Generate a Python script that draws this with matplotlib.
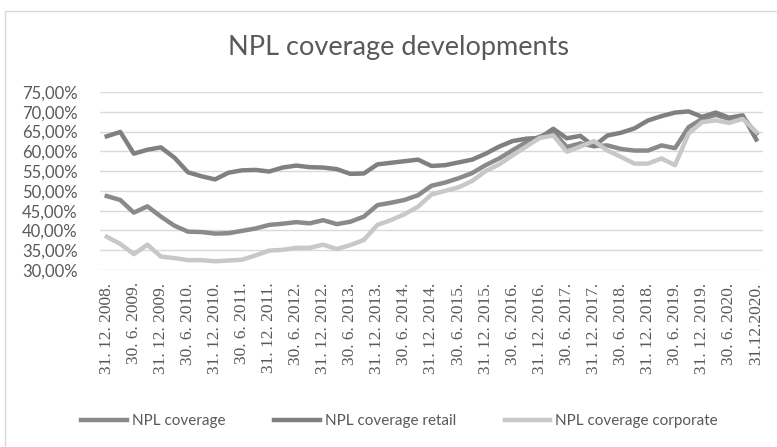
import matplotlib
matplotlib.use("Agg")
import matplotlib.pyplot as plt
from matplotlib.patches import Rectangle
from matplotlib.ticker import FuncFormatter

# Quarterly dates 31.12.2008 .. 31.12.2020 (labels every half-year)
tick_labels = [
    "31. 12. 2008.", "30. 6. 2009.", "31. 12. 2009.", "30. 6. 2010.", "31. 12. 2010.",
    "30. 6. 2011.", "31. 12. 2011.", "30. 6. 2012.", "31. 12. 2012.", "30. 6. 2013.",
    "31. 12. 2013.", "30. 6. 2014.", "31. 12. 2014.", "30. 6. 2015.", "31. 12. 2015.",
    "30. 6. 2016.", "31. 12. 2016.", "30. 6. 2017.", "31. 12. 2017.", "30. 6. 2018.",
    "31. 12. 2018.", "30. 6. 2019.", "31. 12. 2019.", "30. 6. 2020.", "31.12.2020.",
]

npl_coverage = [
    48.7, 47.7, 44.5, 46.1, 43.5, 41.2, 39.7, 39.6, 39.2, 39.3,
    39.9, 40.5, 41.4, 41.7, 42.1, 41.8, 42.6, 41.6, 42.2, 43.5,
    46.4, 47.0, 47.7, 48.9, 51.3, 52.1, 53.2, 54.5, 56.5, 58.2,
    60.3, 62.3, 63.7, 64.9, 61.1, 62.0, 61.3, 61.5, 60.6, 60.2,
    60.2, 61.5, 60.8, 66.1, 68.2, 69.2, 68.2, 68.7, 64.5,
]
npl_coverage_retail = [
    63.8, 64.9, 59.4, 60.4, 61.0, 58.4, 54.7, 53.7, 52.9, 54.6,
    55.2, 55.3, 54.9, 55.9, 56.4, 56.0, 55.9, 55.5, 54.3, 54.4,
    56.7, 57.1, 57.5, 57.9, 56.3, 56.5, 57.2, 57.9, 59.4, 61.2,
    62.6, 63.2, 63.4, 65.7, 63.3, 63.9, 61.3, 64.0, 64.7, 65.8,
    67.8, 68.9, 69.8, 70.1, 68.7, 69.8, 68.5, 69.1, 63.0,
]
npl_coverage_corporate = [
    38.4, 36.6, 34.0, 36.4, 33.4, 33.0, 32.5, 32.5, 32.2, 32.4,
    32.6, 33.7, 34.9, 35.1, 35.6, 35.6, 36.4, 35.3, 36.3, 37.6,
    41.4, 42.6, 44.1, 46.0, 49.1, 50.0, 50.9, 52.5, 55.0, 56.7,
    59.0, 61.2, 63.4, 64.0, 59.9, 61.2, 62.6, 60.2, 58.6, 56.9,
    56.9, 58.2, 56.5, 64.5, 67.4, 67.8, 67.2, 68.2, 64.9,
]
y_ticks = [30, 35, 40, 45, 50, 55, 60, 65, 70, 75]

W, H = 777, 447
fig = plt.figure(figsize=(W / 100, H / 100), dpi=100)
fig.patch.set_facecolor("white")

# chart-area border
fig.patches.append(Rectangle((5 / W, -0.1), 1.2, 1 - 11 / H + 0.1, transform=fig.transFigure,
                             fill=False, edgecolor="#d9d9d9", linewidth=1.0, zorder=0))

ax = fig.add_axes([100 / W, 1 - 270 / H, 663 / W, 178 / H])
x = list(range(len(npl_coverage)))

c_total = "#8a8a8a"
c_retail = "#808080"
c_corp = "#c8c8c8"
lw = 3.2
ax.plot(x, npl_coverage, color=c_total, lw=lw, label="NPL coverage", zorder=3, solid_joinstyle="round")
ax.plot(x, npl_coverage_retail, color=c_retail, lw=lw, label="NPL coverage retail", zorder=3, solid_joinstyle="round")
ax.plot(x, npl_coverage_corporate, color=c_corp, lw=lw, label="NPL coverage corporate", zorder=4, solid_joinstyle="round")

ax.set_xlim(-0.5, len(x) - 0.5)
ax.set_ylim(30, 75)
ax.set_yticks(y_ticks)
ax.yaxis.set_major_formatter(FuncFormatter(lambda v, p: f"{v:.2f}".replace(".", ",") + "%"))
ax.set_xticks(x[::2])
ax.set_xticklabels(tick_labels, rotation=90, family="Liberation Serif", fontsize=12.5, color="#595959")
for lab in ax.get_yticklabels():
    lab.set_family("Lato")
    lab.set_fontsize(12)
    lab.set_color("#595959")
ax.tick_params(axis="both", length=0)
ax.tick_params(axis="y", pad=16)
ax.tick_params(axis="x", pad=9)
ax.grid(axis="y", color="#d9d9d9", lw=1.0, zorder=0)
ax.set_axisbelow(True)
for s in ax.spines.values():
    s.set_visible(False)

fig.text(398.5 / W, 1 - 48 / H, "NPL coverage developments", ha="center", va="center",
         family="Lato", fontsize=19.5, color="#595959")

leg = fig.legend(loc="center", bbox_to_anchor=(399.5 / W, 1 - 421 / H), ncol=3, frameon=False,
                 prop={"family": "Lato", "size": 11}, handlelength=3.0, handletextpad=0.3,
                 columnspacing=3.2)
for t in leg.get_texts():
    t.set_color("#595959")

fig.savefig("out.png", dpi=100)
